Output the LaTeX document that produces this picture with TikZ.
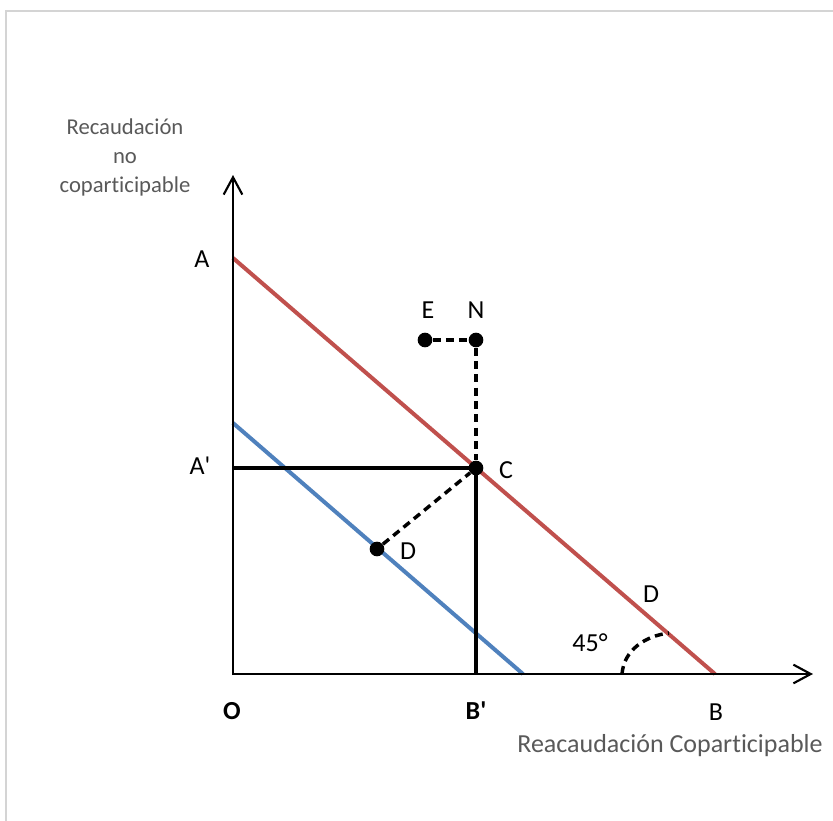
\documentclass[tikz,border=0pt]{standalone}
\usepackage{fontspec}
\setmainfont{Carlito}[Ligatures={NoCommon}]
\usetikzlibrary{arrows.meta}
\definecolor{redline}{HTML}{C0504D}
\definecolor{blueline}{HTML}{4F81BD}
\definecolor{graytext}{HTML}{595959}
\definecolor{frame}{HTML}{D4D4D4}
\begin{document}
\begin{tikzpicture}[x=0.75pt,y=-0.75pt,
  lbl/.style={font=\fontsize{19.5}{23}\selectfont, inner sep=0pt},
  axlbl/.style={font=\fontsize{19.5}{23}\selectfont, text=graytext, inner sep=0pt},
  ylbl/.style={font=\fontsize{17}{21.75}\selectfont, text=graytext, inner sep=0pt, align=center},
  axis/.style={line width=1.6pt, -{Straight Barb[length=13pt,width=14pt,line width=1.6pt]}},
  guide/.style={line width=2.4pt},
  budget/.style={line width=3pt},
  dsh/.style={line width=2.6pt, dash pattern=on 6pt off 4pt},
  dot/.style={circle, fill=black, inner sep=0pt, minimum size=11pt}]
\useasboundingbox (0,0) rectangle (833,821);
\draw[frame, line width=1.5pt] (6,821) -- (6,11) -- (833,11);
% coordinates
\coordinate (O) at (233,674);
\coordinate (Ytop) at (233,175);
\coordinate (Xend) at (813,674);
\coordinate (Apt) at (233,258);
\coordinate (Bpt) at (715,674);
\coordinate (Appt) at (233,468);
\coordinate (Bppt) at (476,674);
\coordinate (Bl1) at (233,423);
\coordinate (Bl2) at (523,674);
\coordinate (ArcS) at (622,674);
\coordinate (ArcE) at (669,633);
% budget lines
\draw[redline, budget] (Apt) -- (Bpt);
\draw[blueline, budget] (Bl1) -- (Bl2);
% guides
\node[dot] (C) at (476,468) {};
\draw[guide] (Appt) -- (C.center) -- (Bppt);
% axes
\draw[axis] (233,675) -- (Ytop);
\draw[axis] (232,674) -- (Xend);
% points
\node[dot] (N) at (476,340) {};
\node[dot] (E) at (425,340) {};
\node[dot] (D) at (377,549) {};
\draw[dsh] (E) -- (N);
\draw[dsh] (N) -- (C);
\draw[dsh] (D) -- (C);
% 45 degree arc
\draw[dsh] (ArcS) .. controls (624,650) and (645,636) .. (ArcE);
% labels
\node[ylbl] (ytitle) at (125,157) {Recaudación\\no\\coparticipable};
\node[axlbl] (xtitle) at (670,746) {Reacaudación Coparticipable};
\node[lbl] (lA) at (202,259) {A};
\node[lbl] (lAp) at (200,466) {A\textquotesingle};
\node[lbl] (lE) at (428,310) {E};
\node[lbl] (lN) at (476,310) {N};
\node[lbl] (lC) at (506,470) {C};
\node[lbl] (lD1) at (408,551) {D};
\node[lbl] (lD2) at (651,594) {D};
\node[lbl] (l45) at (590,643) {45°};
\node[lbl, font=\fontsize{19.5}{23}\selectfont\bfseries] (lO) at (232,711) {O};
\node[lbl, font=\fontsize{19.5}{23}\selectfont\bfseries] (lBp) at (476,711) {B\textquotesingle};
\node[lbl] (lB) at (716,712) {B};
\end{tikzpicture}
\end{document}
